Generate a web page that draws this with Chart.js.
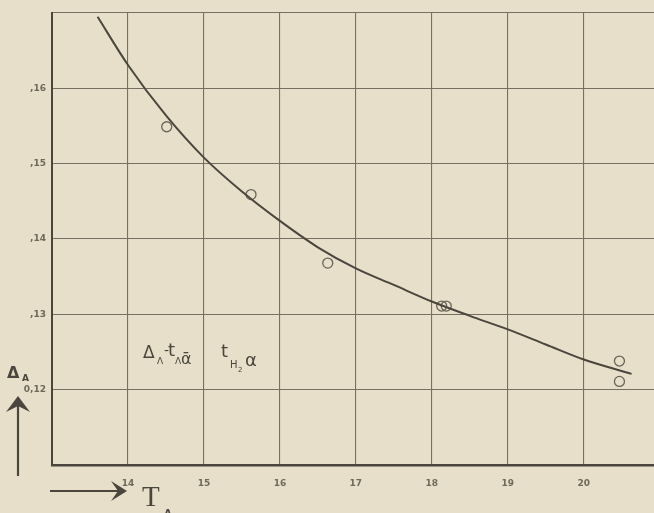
<!DOCTYPE html>
<html><head><meta charset="utf-8">
<script src="https://cdn.jsdelivr.net/npm/chart.js@4"></script>
<style>
html,body{margin:0;padding:0;background:#e7dfc9;overflow:hidden;width:654px;height:513px}
#wrap{position:relative;width:666px;height:513px}
</style></head><body>
<div id="wrap"><canvas id="c" width="666" height="513"></canvas></div>
<script>
// ---- data ----
const xTickValues = [14, 15, 16, 17, 18, 19, 20];
const yTickValues = [0.12, 0.13, 0.14, 0.15, 0.16];
const yTickLabels = ["0,12", ",13", ",14", ",15", ",16"];
const curveX = [13.6, 14.0, 14.5, 15.0, 15.5, 16.0, 16.5, 17.0, 17.5, 18.0, 18.5, 19.0, 19.5, 20.0, 20.63];
const curveY = [0.1695, 0.1631, 0.1564, 0.1508, 0.1463, 0.1424, 0.1389, 0.1361, 0.1339, 0.1317, 0.1298, 0.1280, 0.1260, 0.1240, 0.1221];
const pointsX = [14.51, 15.62, 16.63, 18.13, 18.19, 20.47, 20.47];
const pointsY = [0.1549, 0.1459, 0.1368, 0.1311, 0.1311, 0.1238, 0.1211];

const ink = '#4b463d';
const gridInk = '#777062';
const labelInk = '#6f695a';

const annot = {
  id: 'annot',
  afterDraw(chart) {
    const ctx = chart.ctx;
    ctx.save();
    ctx.fillStyle = ink;
    ctx.strokeStyle = ink;
    ctx.textBaseline = 'alphabetic';
    const t = (s, x, y, size, fam, style) => {
      ctx.font = (style || '') + ' ' + size + 'px ' + (fam || '"DejaVu Sans"');
      ctx.fillText(s, x, y);
    };
    // formula inside plot: Δ_A - t_A ᾱ t_H2 α
    t('Δ', 143, 358, 17);
    t('Λ', 157, 364, 9);
    t('-', 164, 355, 14);
    t('t', 168, 356, 18);
    t('Λ', 175, 364, 9);
    t('ᾱ', 181, 364, 16);
    t('t', 221, 357, 18);
    t('H', 230, 368, 10);
    t('2', 238, 372, 7);
    t('α', 245, 366, 18);

    // y-axis title Δ_A with up arrow
    t('Δ', 7, 378, 16, '"DejaVu Sans"', 'bold');
    t('A', 22, 381, 9, '"DejaVu Sans"', 'bold');
    ctx.lineWidth = 2.2;
    ctx.beginPath(); ctx.moveTo(18, 476); ctx.lineTo(18, 404); ctx.stroke();
    ctx.beginPath();
    ctx.moveTo(18, 396); ctx.lineTo(30, 412); ctx.lineTo(18, 406); ctx.lineTo(6, 412); ctx.closePath();
    ctx.fill();

    // x-axis title arrow and T_A
    ctx.beginPath(); ctx.moveTo(50, 491); ctx.lineTo(121, 491); ctx.stroke();
    ctx.beginPath();
    ctx.moveTo(127, 491); ctx.lineTo(111, 481); ctx.lineTo(118, 491); ctx.lineTo(111, 501); ctx.closePath();
    ctx.fill();
    t('T', 142, 506, 29, '"Liberation Serif"');
    t('A', 164, 517, 10, '"DejaVu Sans"', 'bold');
    ctx.restore();
  }
};

new Chart(document.getElementById('c'), {
  type: 'scatter',
  data: {
    datasets: [
      {
        type: 'line',
        data: curveX.map((x, i) => ({x, y: curveY[i]})),
        borderColor: ink,
        borderWidth: 2,
        pointRadius: 0,
        cubicInterpolationMode: 'monotone',
        fill: false
      },
      {
        data: pointsX.map((x, i) => ({x, y: pointsY[i]})),
        pointStyle: 'circle',
        pointRadius: 5,
        pointBorderWidth: 1.3,
        borderColor: '#6a6457',
        backgroundColor: 'rgba(0,0,0,0)'
      }
    ]
  },
  plugins: [annot],
  options: {
    responsive: false,
    animation: false,
    events: [],
    layout: {padding: {top: 13, left: 0, right: 0, bottom: 0}},
    plugins: {legend: {display: false}, tooltip: {enabled: false}, title: {display: false}},
    scales: {
      x: {
        type: 'linear', min: 13, max: 21,
        afterBuildTicks: s => { s.ticks = [13,14,15,16,17,18,19,20,21].map(v => ({value: v})); },
        afterFit: s => { s.height = 48; s.paddingLeft = 0; s.paddingRight = 0; },
        ticks: {
          autoSkip: false, maxRotation: 0, padding: 13,
          color: labelInk, font: {family: '"DejaVu Sans"', size: 9, weight: 'bold'},
          callback: v => xTickValues.includes(v) ? String(v) : ''
        },
        grid: {color: gridInk, lineWidth: 1.1, drawTicks: false},
        border: {display: true, color: ink, width: 2.5}
      },
      y: {
        type: 'linear', min: 0.11, max: 0.17,
        afterBuildTicks: s => { s.ticks = [0.11,0.12,0.13,0.14,0.15,0.16,0.17].map(v => ({value: v})); },
        afterFit: s => { s.width = 52; s.paddingTop = 0; s.paddingBottom = 0; },
        ticks: {
          autoSkip: false, padding: 6,
          color: labelInk, font: {family: '"DejaVu Sans"', size: 9, weight: 'bold'},
          callback: v => {
            const i = yTickValues.findIndex(t => Math.abs(t - v) < 1e-6);
            return i >= 0 ? yTickLabels[i] : '';
          }
        },
        grid: {color: gridInk, lineWidth: 1.1, drawTicks: false},
        border: {display: true, color: ink, width: 2}
      }
    }
  }
});
</script>
</body></html>
